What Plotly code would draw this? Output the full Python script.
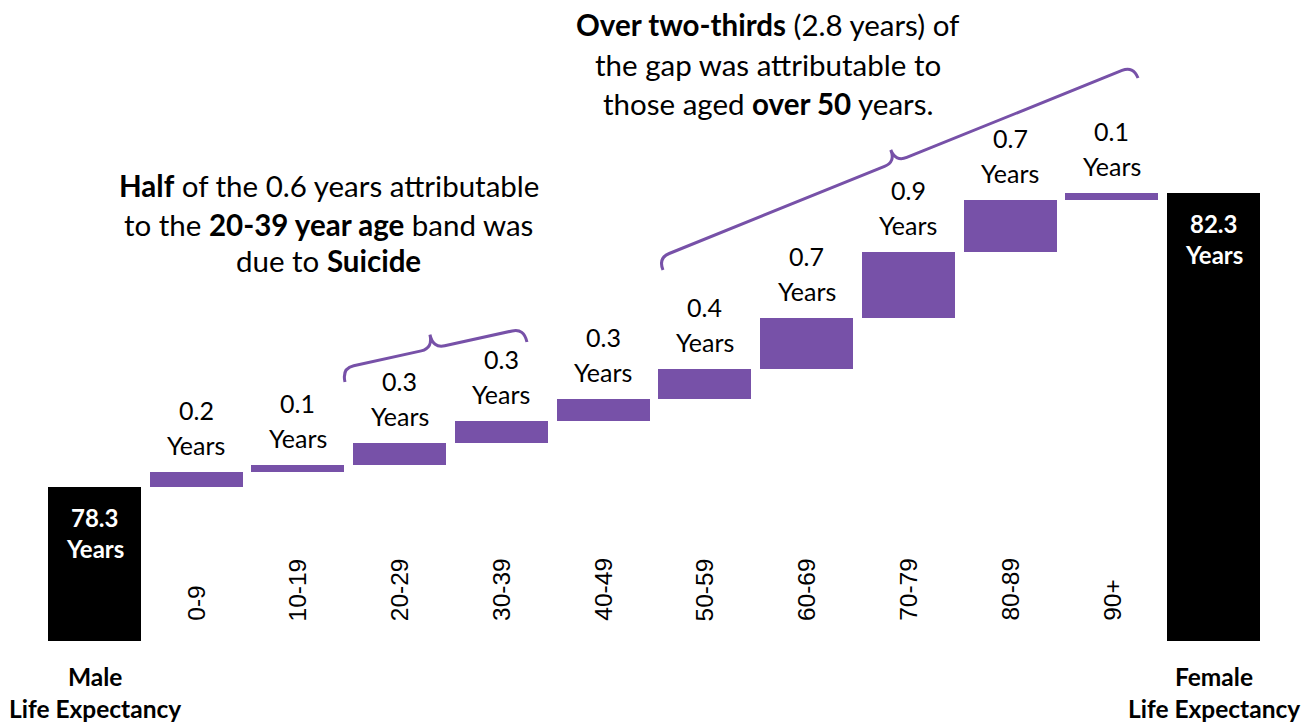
import plotly.graph_objects as go
import numpy as np

# ---- data -------------------------------------------------------------
age_bands = ["0-9", "10-19", "20-29", "30-39", "40-49",
             "50-59", "60-69", "70-79", "80-89", "90+"]
gap_by_age = [0.2, 0.1, 0.3, 0.3, 0.3, 0.4, 0.7, 0.9, 0.7, 0.1]
male_le = 78.3
female_le = 82.3
axis_floor = 76.2

# ---- figure geometry --------------------------------------------------
W, H = 1312, 724
x_range = [-0.929, 11.968]
y_range = [75.076, 84.926]
PURPLE = "#7751A8"
TEXT_FONT = "Lato, 'Open Sans', sans-serif"


def to_data(px, py):
    x = x_range[0] + px / W * (x_range[1] - x_range[0])
    y = y_range[1] - py / H * (y_range[1] - y_range[0])
    return x, y


def to_px(x, y):
    px = (x - x_range[0]) / (x_range[1] - x_range[0]) * W
    py = (y_range[1] - y) / (y_range[1] - y_range[0]) * H
    return px, py


def brace_path(start, end, arm=13, tip=27, r=12):
    """Curly brace between two data points, drawn in screen space."""
    p0 = np.array(to_px(*start))
    p1 = np.array(to_px(*end))
    d = p1 - p0
    L = np.hypot(*d)
    d = d / L
    n = np.array([d[1], -d[0]])
    m = L / 2

    def P(u, v):
        q = p0 + u * d + v * n
        x, y = to_data(q[0], q[1])
        return f"{x:.5f},{y:.5f}"

    return (f"M {P(0, 0)} Q {P(0, arm)} {P(r, arm)} L {P(m - r, arm)} "
            f"Q {P(m, arm)} {P(m, tip)} Q {P(m, arm)} {P(m + r, arm)} "
            f"L {P(L - r, arm)} Q {P(L, arm)} {P(L, 0)}")


fig = go.Figure()

n_age = len(age_bands)
xs_age = list(range(1, n_age + 1))
bases = male_le + np.concatenate([[0], np.cumsum(gap_by_age)[:-1]])
tops = bases + np.array(gap_by_age)

# totals (black)
fig.add_trace(go.Bar(
    x=[0, n_age + 1],
    y=[male_le - axis_floor, female_le - axis_floor],
    base=[axis_floor, axis_floor],
    width=0.914, marker=dict(color="black", line=dict(width=0)),
    hoverinfo="skip", showlegend=False))

# contributions by age band (purple)
fig.add_trace(go.Bar(
    x=xs_age, y=gap_by_age, base=bases,
    width=0.914, marker=dict(color=PURPLE, line=dict(width=0)),
    hoverinfo="skip", showlegend=False))

ann = []

# value labels above each age bar
for x, top, v in zip(xs_age, tops, gap_by_age):
    ann.append(dict(x=x, y=top, text=f"{v:.1f}", yshift=62, yanchor="middle",
                    font=dict(size=25, color="black", family=TEXT_FONT)))
    ann.append(dict(x=x, y=top, text="Years", yshift=27, yanchor="middle",
                    font=dict(size=25, color="black", family=TEXT_FONT)))

# labels inside the totals
for x, v in [(0, male_le), (n_age + 1, female_le)]:
    ann.append(dict(x=x, y=v, text=f"<b>{v:.1f}</b>", yshift=-30, yanchor="middle",
                    font=dict(size=24, color="white", family=TEXT_FONT)))
    ann.append(dict(x=x, y=v, text="<b>Years</b>", yshift=-61, yanchor="middle",
                    font=dict(size=24, color="white", family=TEXT_FONT)))

# rotated age-band labels
for x, lab in zip(xs_age, age_bands):
    ann.append(dict(x=x, y=1 - 623 / H, yref="paper", text=lab, textangle=-90,
                    yanchor="bottom", xanchor="center",
                    font=dict(size=24.5, color="black",
                              family="'Liberation Sans', Arial, sans-serif")))

# category captions under the totals
for x, lab in [(0, "Male"), (n_age + 1, "Female")]:
    ann.append(dict(x=x, y=1 - 676 / H, yref="paper", text=f"<b>{lab}</b>",
                    yanchor="middle",
                    font=dict(size=24.5, color="black", family=TEXT_FONT)))
    ann.append(dict(x=x, y=1 - 708 / H, yref="paper", text="<b>Life Expectancy</b>",
                    yanchor="middle",
                    font=dict(size=24.5, color="black", family=TEXT_FONT)))

# commentary blocks
left_lines = ["<b>Half</b> of the 0.6 years attributable",
              "to the <b>20-39 year age</b> band was",
              "due to <b>Suicide</b>"]
for line, py in zip(left_lines, [186, 224, 261]):
    ann.append(dict(x=329 / W, y=1 - py / H, xref="paper", yref="paper",
                    text=line, yanchor="middle", xanchor="center",
                    font=dict(size=29.5, color="black", family=TEXT_FONT)))

top_lines = ["<b>Over two-thirds</b> (2.8 years) of",
             "the gap was attributable to",
             "those aged <b>over 50</b> years."]
for line, py in zip(top_lines, [24, 64, 103]):
    ann.append(dict(x=768 / W, y=1 - py / H, xref="paper", yref="paper",
                    text=line, yanchor="middle", xanchor="center",
                    font=dict(size=29.5, color="black", family=TEXT_FONT)))

for a in ann:
    a.setdefault("xref", "x")
    a.setdefault("yref", "y")
    a["showarrow"] = False

# braces grouping the age bands
shapes = [
    dict(type="path", path=brace_path((2.462, 79.729), (4.251, 80.273), arm=14, tip=28),
         line=dict(color=PURPLE, width=3), xref="x", yref="y"),
    dict(type="path", path=brace_path((5.588, 81.252), (10.258, 83.865), arm=13, tip=26),
         line=dict(color=PURPLE, width=3), xref="x", yref="y"),
]

fig.update_layout(
    width=W, height=H, autosize=False,
    margin=dict(l=0, r=0, t=0, b=0),
    paper_bgcolor="white", plot_bgcolor="white",
    xaxis=dict(range=x_range, visible=False, fixedrange=True),
    yaxis=dict(range=y_range, visible=False, fixedrange=True),
    annotations=ann, shapes=shapes, bargap=0,
)

fig.write_html("out.html")
